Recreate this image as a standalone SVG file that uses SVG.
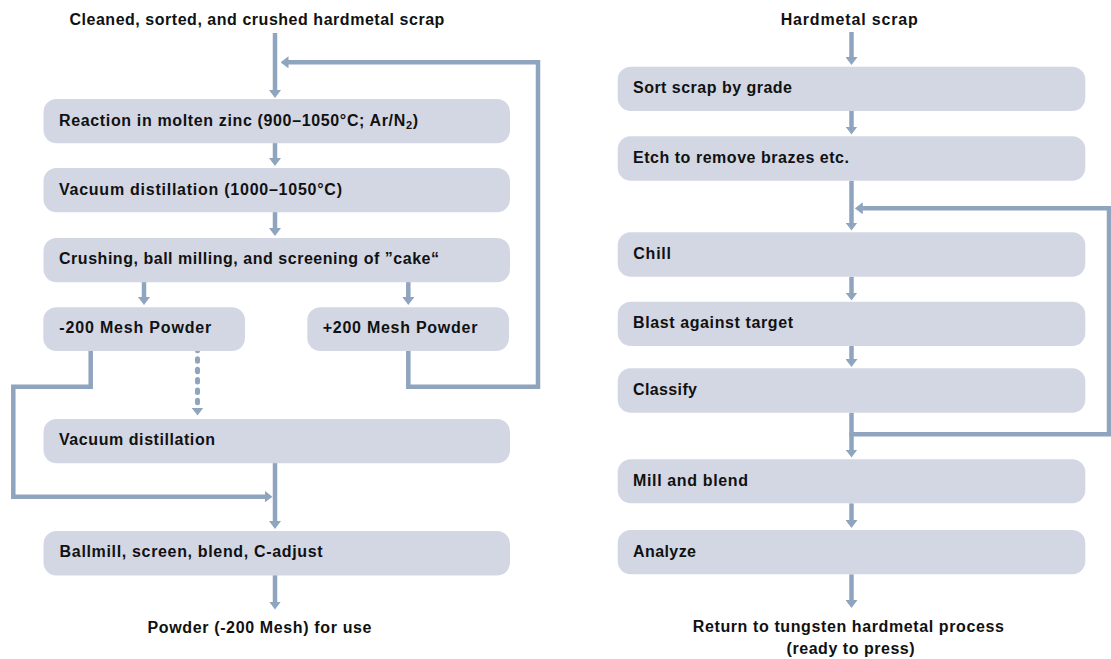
<svg xmlns="http://www.w3.org/2000/svg" width="1111" height="659" viewBox="0 0 1111 659">
<style>
.box{fill:#d3d7e3}
.t{font-family:"Liberation Sans",Arial,sans-serif;font-weight:bold;font-size:16px;fill:#111}
.c{fill:none;stroke:#8fa4be;stroke-width:4.5;stroke-linejoin:miter}
.d{fill:none;stroke:#8fa4be;stroke-width:5;stroke-linecap:round;stroke-dasharray:2.5 7.9}
</style>
<defs>
<marker id="ah" viewBox="0 0 8 12" markerWidth="8" markerHeight="12" refX="0.5" refY="6" orient="auto" markerUnits="userSpaceOnUse">
<path d="M0,0 L8,6 L0,12 z" fill="#8fa4be"/>
</marker>
</defs>
<rect width="1111" height="659" fill="#fff"/>

<g id="connectors">
<!-- left column -->
<path class="c" d="M275,33 V90.5" marker-end="url(#ah)"/>
<path class="c" d="M408.3,351 V386.7 H538 V62.3 H288" marker-end="url(#ah)"/>
<path class="c" d="M275,143 V158.5" marker-end="url(#ah)"/>
<path class="c" d="M275,212 V228.5" marker-end="url(#ah)"/>
<path class="c" d="M144,282 V297.5" marker-end="url(#ah)"/>
<path class="c" d="M408.3,282 V297.5" marker-end="url(#ah)"/>
<path class="c" d="M90.7,351 V386.7 H13.3 V496.7 H265" marker-end="url(#ah)"/>
<path class="d" d="M197.5,348.35 V408" marker-end="url(#ah)"/>
<path class="c" d="M275,463 V521.5" marker-end="url(#ah)"/>
<path class="c" d="M275,575 V602" marker-end="url(#ah)"/>
<!-- right column -->
<path class="c" d="M851.5,32 V57.5" marker-end="url(#ah)"/>
<path class="c" d="M851.5,111 V127" marker-end="url(#ah)"/>
<path class="c" d="M851.5,180.7 V223" marker-end="url(#ah)"/>
<path class="c" d="M851.5,276.7 V293" marker-end="url(#ah)"/>
<path class="c" d="M851.5,346 V359.5" marker-end="url(#ah)"/>
<path class="c" d="M851.5,412.7 V450" marker-end="url(#ah)"/>
<path class="c" d="M849.5,434.3 H1109 V208.3 H862.3" marker-end="url(#ah)"/>
<path class="c" d="M851.5,503.3 V520.5" marker-end="url(#ah)"/>
<path class="c" d="M851.5,574.3 V600.5" marker-end="url(#ah)"/>
</g>

<g id="in-left"><text class="t" x="69.4" y="25" textLength="375" lengthAdjust="spacing">Cleaned, sorted, and crushed hardmetal scrap</text></g>
<g id="reaction"><rect class="box" x="43.5" y="99" width="466.5" height="44.3" rx="13"/><text class="t" x="59" y="126" textLength="359" lengthAdjust="spacing">Reaction in molten zinc (900–1050°C; Ar/N<tspan font-size="11" dy="3">2</tspan><tspan dy="-3">)</tspan></text></g>
<g id="vacdist1"><rect class="box" x="43.5" y="168" width="466.5" height="44.3" rx="13"/><text class="t" x="59" y="195" textLength="283" lengthAdjust="spacing">Vacuum distillation (1000–1050°C)</text></g>
<g id="crushing"><rect class="box" x="43.5" y="238" width="466.5" height="44.3" rx="13"/><text class="t" x="59" y="264" textLength="380" lengthAdjust="spacing">Crushing, ball milling, and screening of ”cake“</text></g>
<g id="minus200"><rect class="box" x="43.3" y="307.3" width="201.7" height="43.7" rx="13"/><text class="t" x="59.3" y="333.3" textLength="152" lengthAdjust="spacing">-200 Mesh Powder</text></g>
<g id="plus200"><rect class="box" x="307.3" y="307.3" width="201.7" height="43.7" rx="13"/><text class="t" x="322.7" y="333.3" textLength="154.7" lengthAdjust="spacing">+200 Mesh Powder</text></g>
<g id="vacdist2"><rect class="box" x="43.5" y="419" width="466.5" height="44.3" rx="13"/><text class="t" x="59" y="444.5" textLength="156" lengthAdjust="spacing">Vacuum distillation</text></g>
<g id="ballmill"><rect class="box" x="43.5" y="531" width="466.5" height="44.5" rx="13"/><text class="t" x="59.6" y="557" textLength="263" lengthAdjust="spacing">Ballmill, screen, blend, C-adjust</text></g>
<g id="out-left"><text class="t" x="147.5" y="633" textLength="224" lengthAdjust="spacing">Powder (-200 Mesh) for use</text></g>

<g id="in-right"><text class="t" x="780.7" y="25" textLength="137" lengthAdjust="spacing">Hardmetal scrap</text></g>
<g id="sort"><rect class="box" x="617.7" y="66.7" width="467.6" height="44.3" rx="13"/><text class="t" x="633" y="93" textLength="159" lengthAdjust="spacing">Sort scrap by grade</text></g>
<g id="etch"><rect class="box" x="617.7" y="136.3" width="467.6" height="44.4" rx="13"/><text class="t" x="633" y="163" textLength="216" lengthAdjust="spacing">Etch to remove brazes etc.</text></g>
<g id="chill"><rect class="box" x="617.7" y="232.3" width="467.6" height="44.4" rx="13"/><text class="t" x="633.3" y="259" textLength="37.7" lengthAdjust="spacing">Chill</text></g>
<g id="blast"><rect class="box" x="617.7" y="301.7" width="467.6" height="44.3" rx="13"/><text class="t" x="633" y="328" textLength="160" lengthAdjust="spacing">Blast against target</text></g>
<g id="classify"><rect class="box" x="617.7" y="368.3" width="467.6" height="44.4" rx="13"/><text class="t" x="633" y="395" textLength="64" lengthAdjust="spacing">Classify</text></g>
<g id="mill"><rect class="box" x="617.7" y="459.3" width="467.6" height="44" rx="13"/><text class="t" x="633" y="485.5" textLength="115" lengthAdjust="spacing">Mill and blend</text></g>
<g id="analyze"><rect class="box" x="617.7" y="530" width="467.6" height="44.3" rx="13"/><text class="t" x="633" y="557" textLength="63" lengthAdjust="spacing">Analyze</text></g>
<g id="out-right"><text class="t" x="692.8" y="632.3" textLength="311" lengthAdjust="spacing">Return to tungsten hardmetal process</text><text class="t" x="786.6" y="654.3" textLength="128" lengthAdjust="spacing">(ready to press)</text></g>
</svg>
